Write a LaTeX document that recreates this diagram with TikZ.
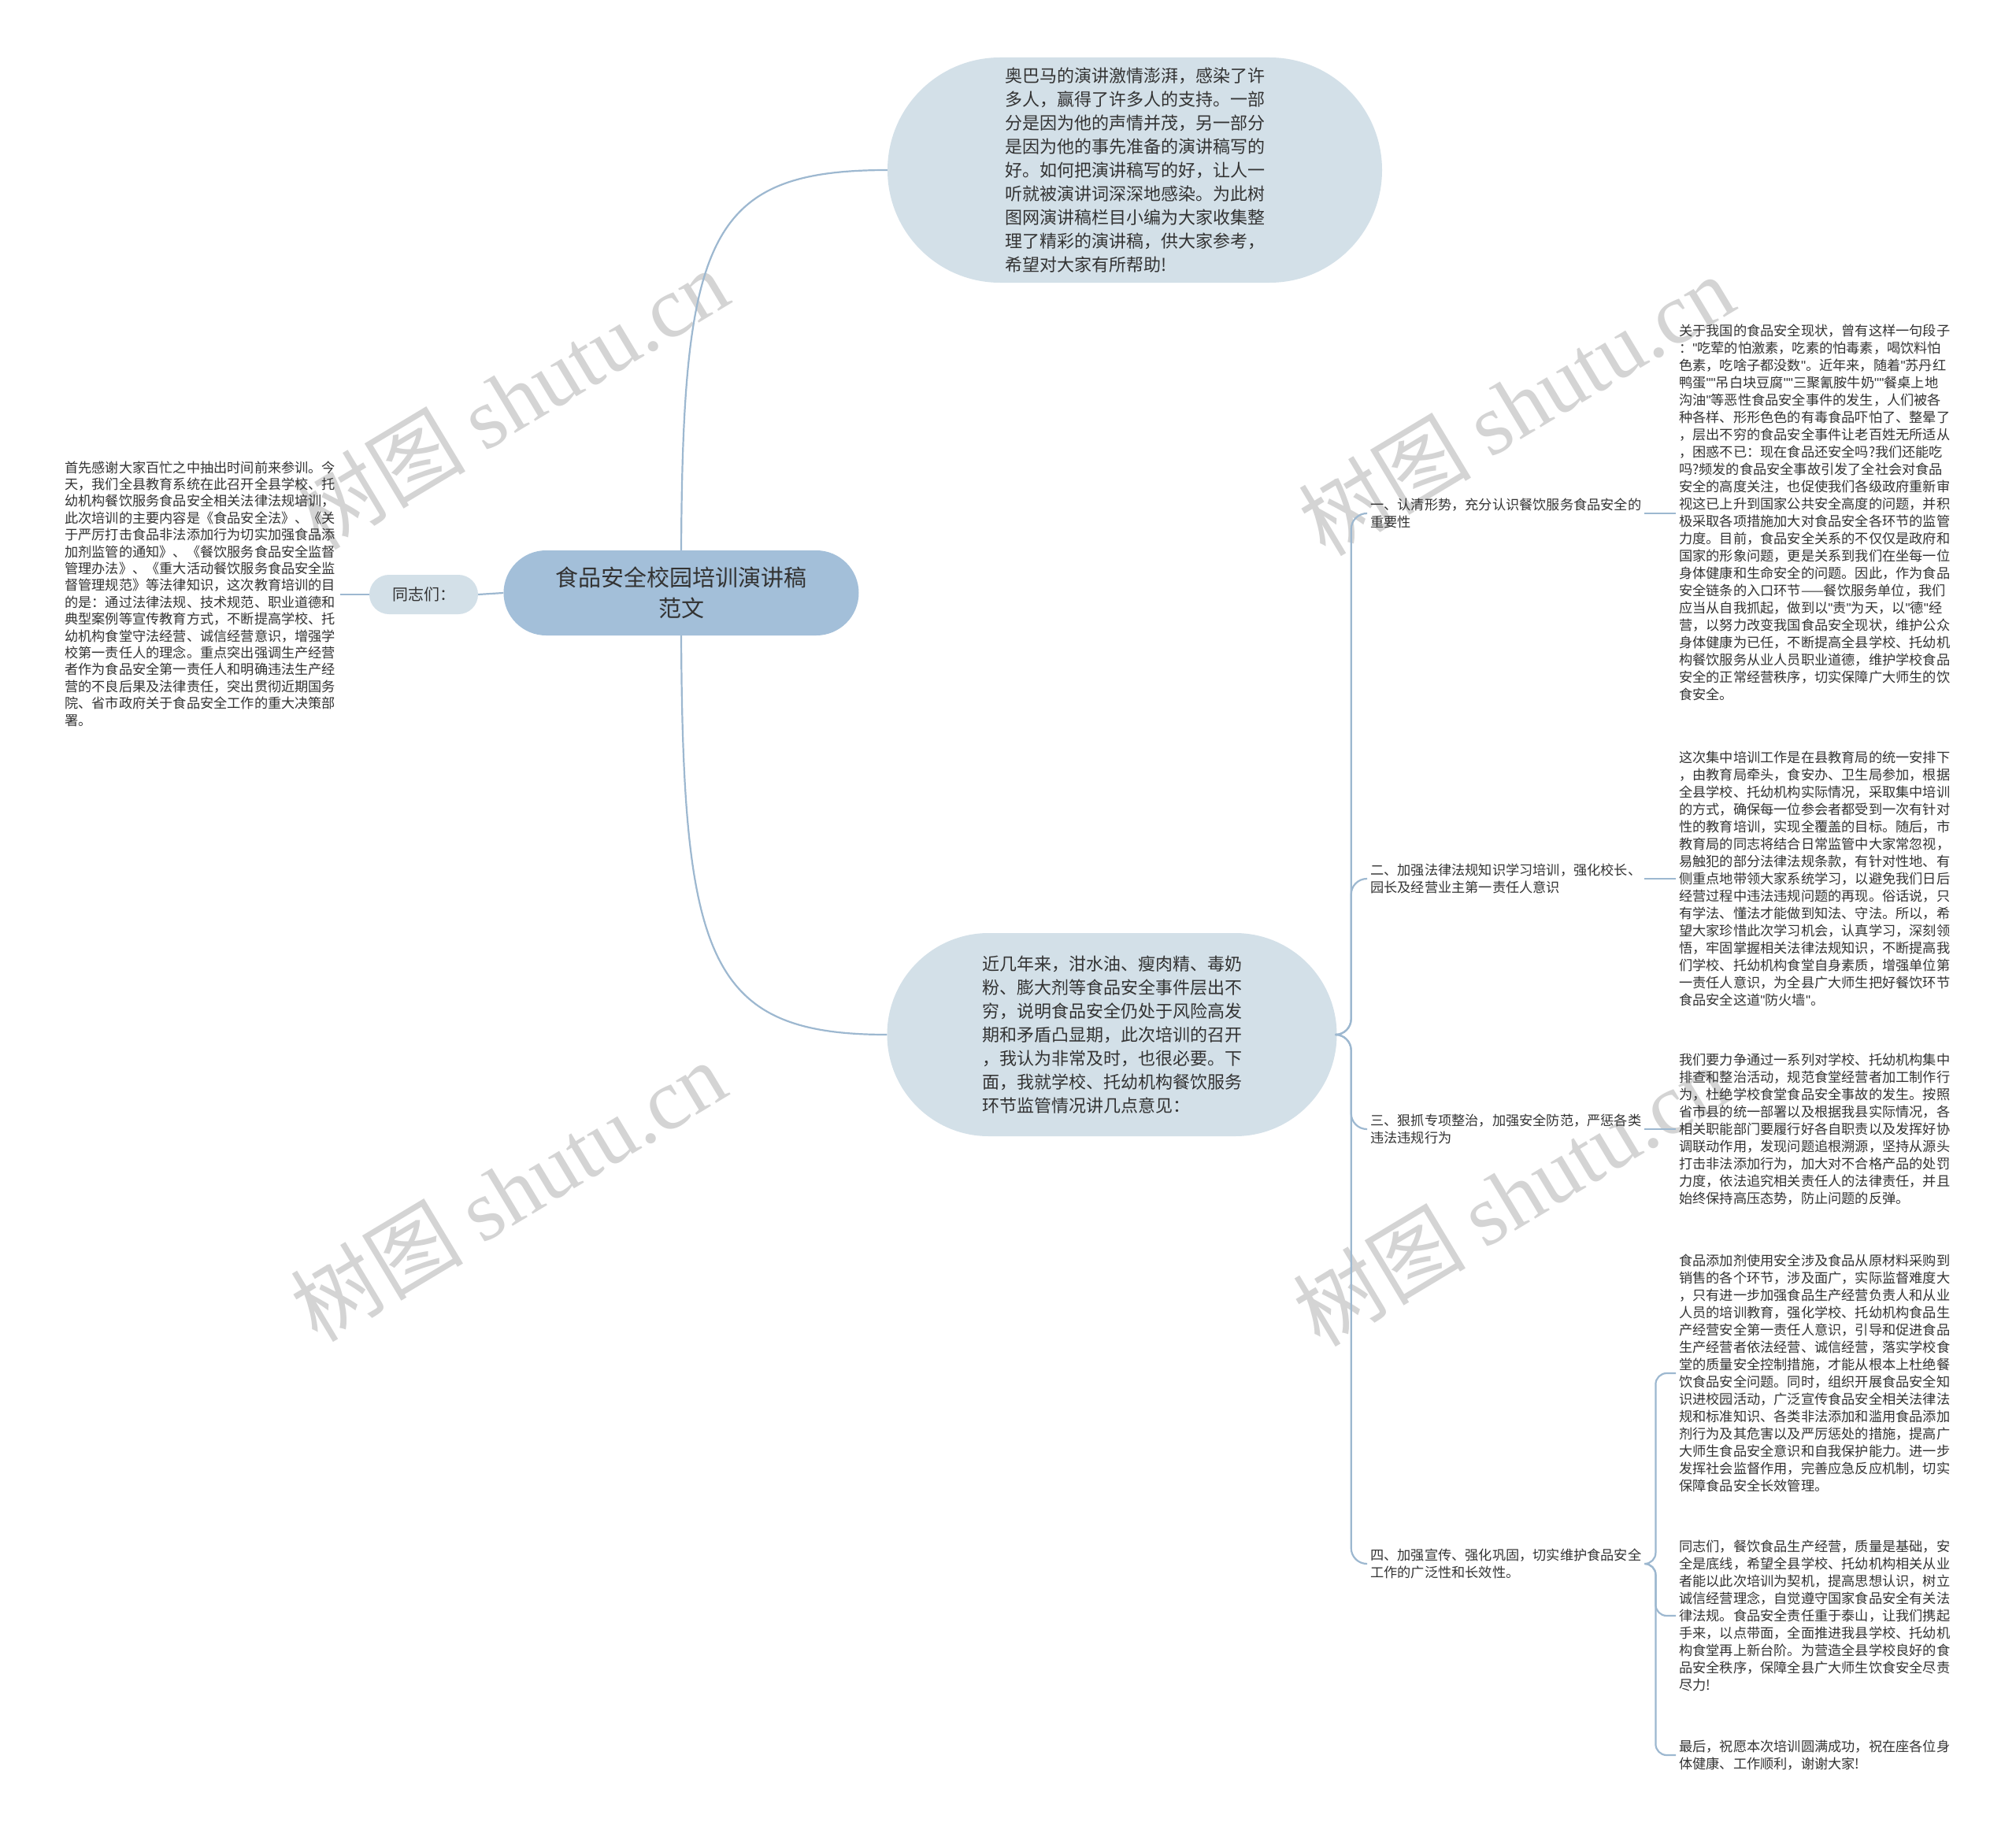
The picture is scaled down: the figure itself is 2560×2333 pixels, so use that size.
\documentclass[tikz,border=0pt]{standalone}
\usepackage{fontspec}
\setmainfont{Noto Sans CJK SC}
\newfontfamily\wmlat{Liberation Serif}
\newfontfamily\qfont{Liberation Sans}
\newcommand{\dq}{{\qfont\char"22}}
\definecolor{bubblefill}{HTML}{D3E0E8}
\definecolor{centerfill}{HTML}{A3BFD9}
\definecolor{linecol}{HTML}{9DB8D0}
\definecolor{txt}{HTML}{333333}
\definecolor{wmcol}{HTML}{D4D4D4}
\tikzset{
  conn/.style={draw=linecol, line width=2.2pt},
  bubble/.style={fill=bubblefill, align=left, text=txt, inner sep=0pt,
    font=\fontsize{22}{30}\selectfont},
  leaf/.style={align=left, text=txt, inner ysep=0pt, inner xsep=4pt, anchor=west,
    font=\fontsize{17.2}{22}\selectfont},
  branch/.style={align=left, text=txt, inner ysep=0pt, inner xsep=4pt, anchor=west,
    font=\fontsize{17.2}{22.5}\selectfont},
  wm/.style={text=wmcol, rotate=31, inner sep=0pt}
}
\begin{document}
\begin{tikzpicture}[x=1pt,y=-1pt]
\useasboundingbox (0,0) rectangle (2560,2333);
\fill[white] (0,0) rectangle (2560,2333);

% watermarks
\node[wm] (wm1) at (648,506) {\fontsize{110}{110}\selectfont 树图 \wmlat shutu.cn};
\node[wm] (wm2) at (1925,514) {\fontsize{110}{110}\selectfont 树图 \wmlat shutu.cn};
\node[wm] (wm3) at (645,1512) {\fontsize{110}{110}\selectfont 树图 \wmlat shutu.cn};
\node[wm] (wm4) at (1918,1518) {\fontsize{110}{110}\selectfont 树图 \wmlat shutu.cn};

% central node
\node[fill=centerfill, rounded corners=54pt, minimum width=451pt, minimum height=108pt,
  align=center, text=txt, inner sep=0pt, font=\fontsize{29}{39}\selectfont]
  (c) at (865,753) {食品安全校园培训演讲稿\\范文};

% left branch
\node[fill=bubblefill, rounded corners=25pt, minimum width=138pt, minimum height=50pt,
  text=txt, inner sep=0pt, font=\fontsize{20}{24}\selectfont]
  (tz) at (538,755) {同志们：};
\node[align=left, text=txt, inner ysep=0pt, inner xsep=6pt, anchor=west,
  font=\fontsize{17.2}{21.4}\selectfont] (lt) at (76,754) {首先感谢大家百忙之中抽出时间前来参训。今\\
天，我们全县教育系统在此召开全县学校、托\\
幼机构餐饮服务食品安全相关法律法规培训，\\
此次培训的主要内容是《食品安全法》、《关\\
于严厉打击食品非法添加行为切实加强食品添\\
加剂监管的通知》、《餐饮服务食品安全监督\\
管理办法》、《重大活动餐饮服务食品安全监\\
督管理规范》等法律知识，这次教育培训的目\\
的是：通过法律法规、技术规范、职业道德和\\
典型案例等宣传教育方式，不断提高学校、托\\
幼机构食堂守法经营、诚信经营意识，增强学\\
校第一责任人的理念。重点突出强调生产经营\\
者作为食品安全第一责任人和明确违法生产经\\
营的不良后果及法律责任，突出贯彻近期国务\\
院、省市政府关于食品安全工作的重大决策部\\
署。};

% top bubble
\node[bubble, rounded corners=143pt, minimum width=628pt, minimum height=286pt]
  (top) at (1441,216) {奥巴马的演讲激情澎湃，感染了许\\
多人，赢得了许多人的支持。一部\\
分是因为他的声情并茂，另一部分\\
是因为他的事先准备的演讲稿写的\\
好。如何把演讲稿写的好，让人一\\
听就被演讲词深深地感染。为此树\\
图网演讲稿栏目小编为大家收集整\\
理了精彩的演讲稿，供大家参考，\\
希望对大家有所帮助!};

% bottom bubble
\node[bubble, rounded corners=129pt, minimum width=571pt, minimum height=258pt]
  (bot) at (1412,1314) {近几年来，泔水油、瘦肉精、毒奶\\
粉、膨大剂等食品安全事件层出不\\
穷，说明食品安全仍处于风险高发\\
期和矛盾凸显期，此次培训的召开\\
，我认为非常及时，也很必要。下\\
面，我就学校、托幼机构餐饮服务\\
环节监管情况讲几点意见：};

% second-level labels
\node[branch] (L1) at (1736,652) {一、认清形势，充分认识餐饮服务食品安全的\\重要性};
\node[branch] (L2) at (1736,1116) {二、加强法律法规知识学习培训，强化校长、\\园长及经营业主第一责任人意识};
\node[branch] (L3) at (1736,1434) {三、狠抓专项整治，加强安全防范，严惩各类\\违法违规行为};
\node[branch] (L4) at (1736,1986) {四、加强宣传、强化巩固，切实维护食品安全\\工作的广泛性和长效性。};

% leaf texts
\node[leaf] (T1) at (2128,651) {关于我国的食品安全现状，曾有这样一句段子\\
：\dq{}吃荤的怕激素，吃素的怕毒素，喝饮料怕\\
色素，吃啥子都没数\dq{}。近年来，随着\dq{}苏丹红\\
鸭蛋\dq{}\dq{}吊白块豆腐\dq{}\dq{}三聚氰胺牛奶\dq{}\dq{}餐桌上地\\
沟油\dq{}等恶性食品安全事件的发生，人们被各\\
种各样、形形色色的有毒食品吓怕了、整晕了\\
，层出不穷的食品安全事件让老百姓无所适从\\
，困惑不已：现在食品还安全吗?我们还能吃\\
吗?频发的食品安全事故引发了全社会对食品\\
安全的高度关注，也促使我们各级政府重新审\\
视这已上升到国家公共安全高度的问题，并积\\
极采取各项措施加大对食品安全各环节的监管\\
力度。目前，食品安全关系的不仅仅是政府和\\
国家的形象问题，更是关系到我们在坐每一位\\
身体健康和生命安全的问题。因此，作为食品\\
安全链条的入口环节——餐饮服务单位，我们\\
应当从自我抓起，做到以\dq{}责\dq{}为天，以\dq{}德\dq{}经\\
营，以努力改变我国食品安全现状，维护公众\\
身体健康为已任，不断提高全县学校、托幼机\\
构餐饮服务从业人员职业道德，维护学校食品\\
安全的正常经营秩序，切实保障广大师生的饮\\
食安全。};

\node[leaf] (T2) at (2128,1116) {这次集中培训工作是在县教育局的统一安排下\\
，由教育局牵头，食安办、卫生局参加，根据\\
全县学校、托幼机构实际情况，采取集中培训\\
的方式，确保每一位参会者都受到一次有针对\\
性的教育培训，实现全覆盖的目标。随后，市\\
教育局的同志将结合日常监管中大家常忽视，\\
易触犯的部分法律法规条款，有针对性地、有\\
侧重点地带领大家系统学习，以避免我们日后\\
经营过程中违法违规问题的再现。俗话说，只\\
有学法、懂法才能做到知法、守法。所以，希\\
望大家珍惜此次学习机会，认真学习，深刻领\\
悟，牢固掌握相关法律法规知识，不断提高我\\
们学校、托幼机构食堂自身素质，增强单位第\\
一责任人意识，为全县广大师生把好餐饮环节\\
食品安全这道\dq{}防火墙\dq{}。};

\node[leaf] (T3) at (2128,1434) {我们要力争通过一系列对学校、托幼机构集中\\
排查和整治活动，规范食堂经营者加工制作行\\
为，杜绝学校食堂食品安全事故的发生。按照\\
省市县的统一部署以及根据我县实际情况，各\\
相关职能部门要履行好各自职责以及发挥好协\\
调联动作用，发现问题追根溯源，坚持从源头\\
打击非法添加行为，加大对不合格产品的处罚\\
力度，依法追究相关责任人的法律责任，并且\\
始终保持高压态势，防止问题的反弹。};

\node[leaf] (T4) at (2128,1744) {食品添加剂使用安全涉及食品从原材料采购到\\
销售的各个环节，涉及面广，实际监督难度大\\
，只有进一步加强食品生产经营负责人和从业\\
人员的培训教育，强化学校、托幼机构食品生\\
产经营安全第一责任人意识，引导和促进食品\\
生产经营者依法经营、诚信经营，落实学校食\\
堂的质量安全控制措施，才能从根本上杜绝餐\\
饮食品安全问题。同时，组织开展食品安全知\\
识进校园活动，广泛宣传食品安全相关法律法\\
规和标准知识、各类非法添加和滥用食品添加\\
剂行为及其危害以及严厉惩处的措施，提高广\\
大师生食品安全意识和自我保护能力。进一步\\
发挥社会监督作用，完善应急反应机制，切实\\
保障食品安全长效管理。};

\node[leaf] (T5) at (2128,2052) {同志们，餐饮食品生产经营，质量是基础，安\\
全是底线，希望全县学校、托幼机构相关从业\\
者能以此次培训为契机，提高思想认识，树立\\
诚信经营理念，自觉遵守国家食品安全有关法\\
律法规。食品安全责任重于泰山，让我们携起\\
手来，以点带面，全面推进我县学校、托幼机\\
构食堂再上新台阶。为营造全县学校良好的食\\
品安全秩序，保障全县广大师生饮食安全尽责\\
尽力!};

\node[leaf] (T6) at (2128,2229) {最后，祝愿本次培训圆满成功，祝在座各位身\\
体健康、工作顺利，谢谢大家!};

% connectors
\draw[conn] (c.west) -- (tz.east);
\draw[conn] (tz.west) -- (tz.west -| lt.east);
\draw[conn] (c.north) .. controls (867,300) and (900,216) .. (top.west);
\draw[conn] (c.south) .. controls (867,1220) and (900,1314) .. (bot.west);

\foreach \L in {L1,L2,L3,L4}
  \draw[conn, rounded corners=20pt] (bot.east) -- ++(18,0) |- (\L.west);

\draw[conn] (L1.east) -- (L1.east -| T1.west);
\draw[conn] (L2.east) -- (L2.east -| T2.west);
\draw[conn] (L3.east) -- (L3.east -| T3.west);
\foreach \T in {T4,T5,T6}
  \draw[conn, rounded corners=14pt] (L4.east) -- ++(14,0) |- (\T.west);
\end{tikzpicture}
\end{document}
